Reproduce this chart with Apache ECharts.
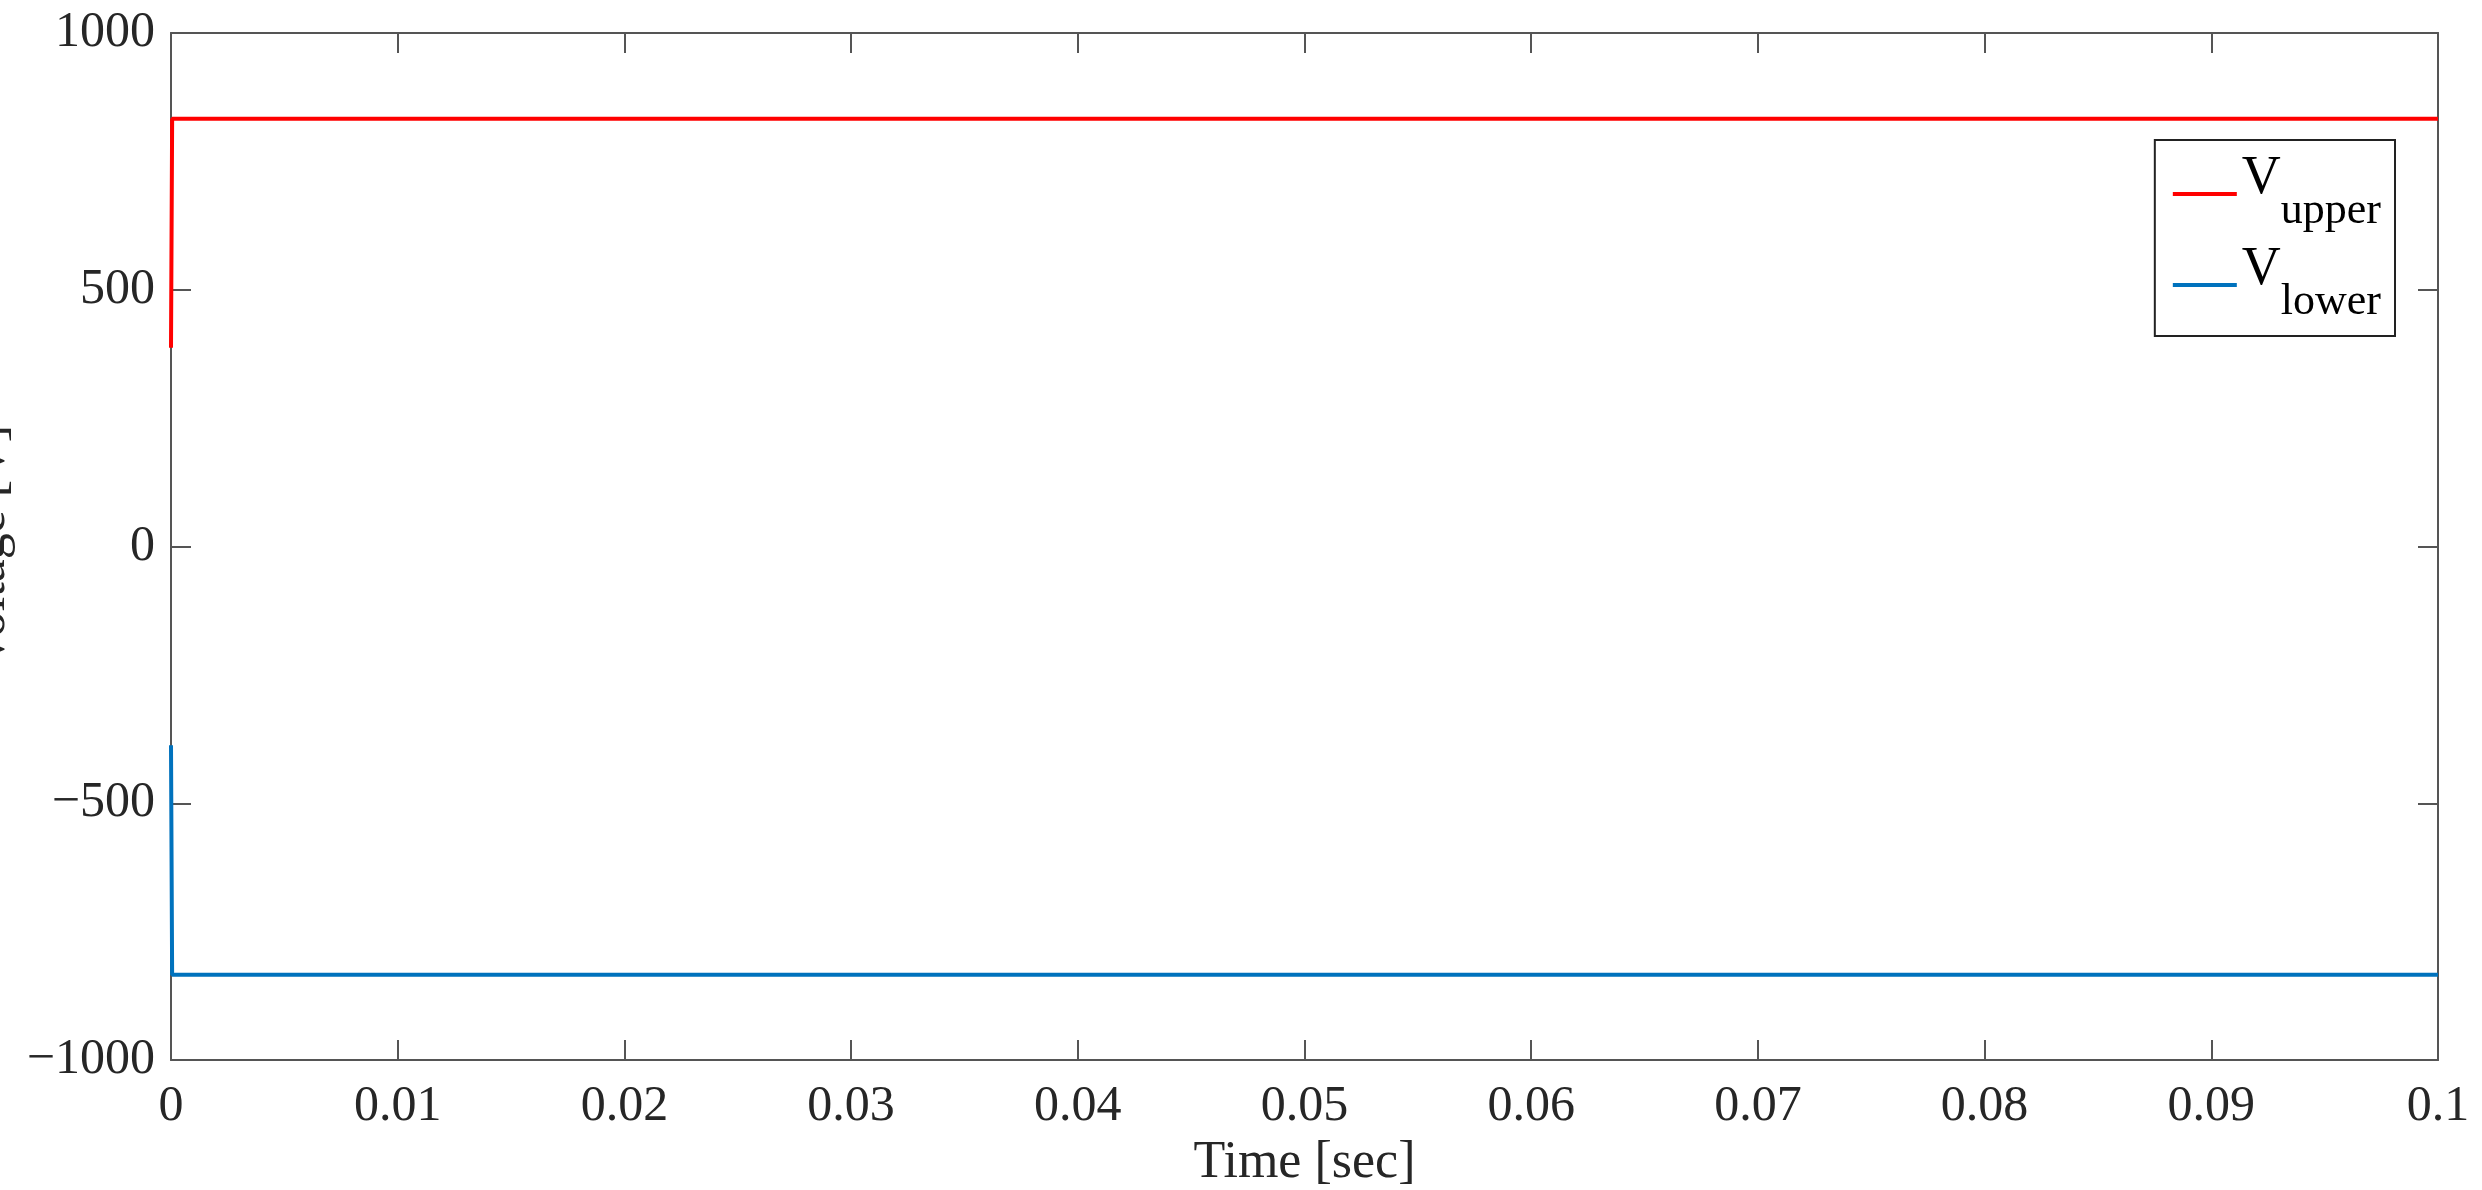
<!DOCTYPE html>
<html><head><meta charset="utf-8">
<script src="https://cdn.jsdelivr.net/npm/echarts@6/dist/echarts.min.js"></script>
<style>html,body{margin:0;background:#fff}#c{width:2482px;height:1190px}</style>
</head><body><div id="c"></div>
<script>
// time [sec] and voltage [V]
var upperT = [0, 0.00005, 0.1];
var upperV = [387, 833, 833];
var lowerT = [0, 0.00005, 0.1];
var lowerV = [-387, -834, -834];
var xTicks = [0, 0.01, 0.02, 0.03, 0.04, 0.05, 0.06, 0.07, 0.08, 0.09, 0.1];

var chart = echarts.init(document.getElementById('c'));
var font = 'Liberation Serif';
var axisLine = { show: true, onZero: false, lineStyle: { color: '#555', width: 2 } };
var tick = { show: true, inside: true, length: 20, lineStyle: { color: '#555', width: 2 } };
function pair(t, v) { return t.map(function (x, i) { return [x, v[i]]; }); }

chart.setOption({
  animation: false,
  grid: { left: 171, right: 44, top: 33, bottom: 130, containLabel: false, outerBoundsMode: 'none' },
  legend: {
    right: 87, top: 140, orient: 'vertical', backgroundColor: '#fff',
    borderColor: '#222', borderWidth: 2, padding: [12, 14, 12, 18], itemGap: 10,
    itemWidth: 64, itemHeight: 4, icon: 'rect',
    formatter: function (n) { return '{v|V}{s|' + n.split('_')[1] + '}'; },
    textStyle: { rich: {
      v: { fontFamily: font, fontSize: 54, color: '#000', padding: [0, 0, 30, 0] },
      s: { fontFamily: font, fontSize: 44, color: '#000', padding: [34, 0, 0, 0] }
    } }
  },
  xAxis: [{
    type: 'value', min: 0, max: 0.1, interval: 0.01,
    name: 'Time [sec]', nameLocation: 'middle', nameGap: 72,
    nameTextStyle: { fontFamily: font, fontSize: 52, color: '#262626' },
    axisLine: axisLine, splitLine: { show: false }, axisTick: tick,
    axisLabel: { fontFamily: font, fontSize: 50, color: '#262626', margin: 22,
      formatter: function (v) { return xTicks.indexOf(+v.toFixed(2)) >= 0 ? String(+v.toFixed(2)) : ''; } }
  }, {
    type: 'value', position: 'top', min: 0, max: 0.1, interval: 0.01,
    axisLine: axisLine, splitLine: { show: false }, axisLabel: { show: false }, axisTick: tick
  }],
  yAxis: [{
    type: 'value', min: -1000, max: 1000, interval: 500,
    name: 'Voltage [V]', nameLocation: 'middle', nameGap: 130,
    nameTextStyle: { fontFamily: font, fontSize: 52, color: '#262626' },
    axisLine: axisLine, splitLine: { show: false }, axisTick: tick,
    axisLabel: { fontFamily: font, fontSize: 50, color: '#262626', margin: 16,
      formatter: function (v) { return v < 0 ? '\u2212' + (-v) : String(v); } }
  }, {
    type: 'value', position: 'right', min: -1000, max: 1000, interval: 500,
    axisLine: axisLine, splitLine: { show: false }, axisLabel: { show: false }, axisTick: tick
  }],
  series: [
    { name: 'V_upper', type: 'line', showSymbol: false, data: pair(upperT, upperV),
      color: '#ff0000', lineStyle: { width: 4 } },
    { name: 'V_lower', type: 'line', showSymbol: false, data: pair(lowerT, lowerV),
      color: '#0072bd', lineStyle: { width: 4 } }
  ]
});
</script></body></html>
